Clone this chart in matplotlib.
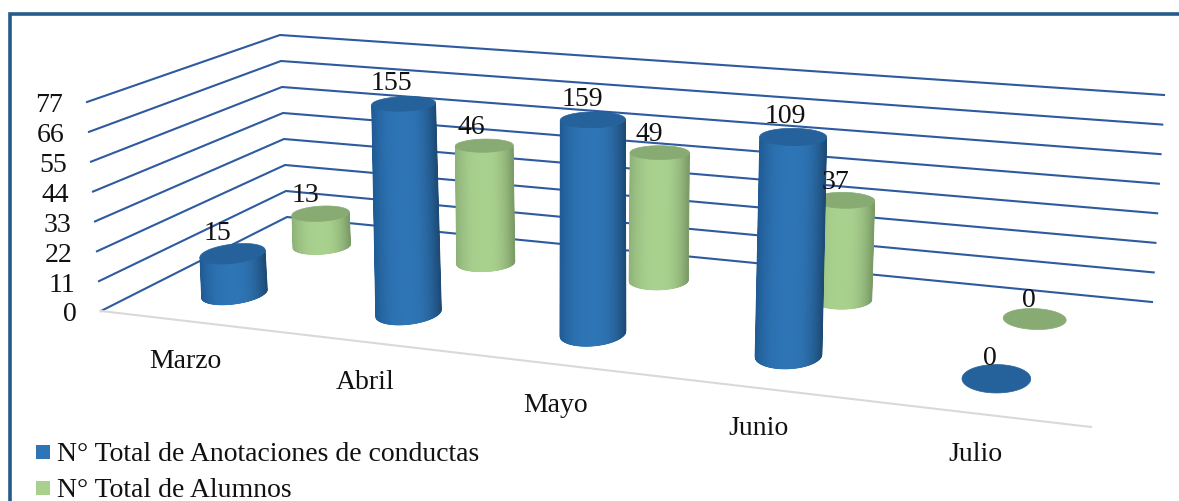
"""3D style cylinder chart: anotaciones de conductas y alumnos por mes."""
import matplotlib
matplotlib.use("Agg")
import matplotlib.pyplot as plt
import numpy as np
from matplotlib.patches import Polygon, Rectangle

months = ["Marzo", "Abril", "Mayo", "Junio", "Julio"]
anotaciones = [15, 155, 159, 109, 0]
alumnos = [13, 46, 49, 37, 0]
y_ticks = [0, 11, 22, 33, 44, 55, 66, 77]
legend_labels = ["N° Total de Anotaciones de conductas", "N° Total de Alumnos"]

AXIS_MAX = y_ticks[-1]

# pixel corners of the floor: front-left, front-right, back-right, back-left
FLOOR = np.array([(101, 312), (1091, 428), (1152, 303), (287, 218)], float)
# how far each corner moves on screen for the full axis height
RISE = np.array([(-14, -209), (12, -232), (12, -207), (-7, -182)], float)

BLUE = dict(mid="#2E75B6", left="#1F5A93", right="#1D4A75", top="#25619A")
GREEN = dict(mid="#A9D18E", left="#8DB077", right="#7A9A66", top="#88AB74")


def homography(quad):
    src = [(0, 0), (1, 0), (1, 1), (0, 1)]
    rows, rhs = [], []
    for (u, v), (x, y) in zip(src, quad):
        rows.append([u, v, 1, 0, 0, 0, -u * x, -v * x])
        rows.append([0, 0, 0, u, v, 1, -u * y, -v * y])
        rhs += [x, y]
    return np.append(np.linalg.solve(np.array(rows, float), np.array(rhs, float)), 1).reshape(3, 3)


H_FLOOR = homography(FLOOR)


def project(u, v, h=0.0):
    u, v = np.asarray(u, float), np.asarray(v, float)
    H = H_FLOOR
    w = H[2, 0] * u + H[2, 1] * v + H[2, 2]
    x = (H[0, 0] * u + H[0, 1] * v + H[0, 2]) / w
    y = (H[1, 0] * u + H[1, 1] * v + H[1, 2]) / w
    t = np.asarray(h, float) / AXIS_MAX
    dx = (1 - v) * ((1 - u) * RISE[0, 0] + u * RISE[1, 0]) + v * ((1 - u) * RISE[3, 0] + u * RISE[2, 0])
    dy = (1 - v) * ((1 - u) * RISE[0, 1] + u * RISE[1, 1]) + v * ((1 - u) * RISE[3, 1] + u * RISE[2, 1])
    return x + dx * t, y + dy * t


def hex_rgb(c):
    return np.array(matplotlib.colors.to_rgb(c))


def side_colour(f, style):
    # f runs -1 (left silhouette) to 1 (right silhouette)
    edge = hex_rgb(style["left"] if f < 0 else style["right"])
    k = abs(f) ** 2.5
    return tuple(hex_rgb(style["mid"]) * (1 - k) + edge * k)


def lower_arc(x, y, xq):
    # y of the near side of a closed ellipse outline at the x positions xq
    m = len(x) - 1
    i, ir = int(np.argmin(x[:-1])), int(np.argmax(x[:-1]))
    xa, ya = [x[i]], [y[i]]
    while i != ir:
        i = (i + 1) % m
        xa.append(x[i])
        ya.append(y[i])
    return np.interp(xq, xa, ya)


def cylinder(ax, uc, vc, value, style, ru, rv):
    h = min(value, AXIS_MAX)
    t = np.linspace(0, 2 * np.pi, 361)
    # the eye sits near the top of the box, so high ellipses look flatter
    flat = 1 - 0.2 * h / AXIS_MAX
    xb, yb = project(uc + ru * np.cos(t), vc + rv * np.sin(t), 0)
    xt, yt = project(uc + ru * np.cos(t), vc + flat * rv * np.sin(t), h)
    if h > 0:
        fs = np.linspace(-1, 1, 141)
        qb = (xb.max() + xb.min()) / 2 + fs * (xb.max() - xb.min()) / 2
        qt = (xt.max() + xt.min()) / 2 + fs * (xt.max() - xt.min()) / 2
        yqb, yqt = lower_arc(xb, yb, qb), lower_arc(xt, yt, qt)
        for i in range(len(fs) - 1):
            quad = [(qb[i], yqb[i]), (qb[i + 1], yqb[i + 1]), (qt[i + 1], yqt[i + 1]), (qt[i], yqt[i])]
            c = side_colour((fs[i] + fs[i + 1]) / 2, style)
            ax.add_patch(Polygon(quad, closed=True, fc=c, ec=c, lw=0.5, zorder=3))
    ax.add_patch(Polygon(np.c_[xt, yt], closed=True, fc=style["top"], ec=style["top"], lw=0.5, zorder=3))
    return project(uc, vc, h)


fig = plt.figure(figsize=(11.79, 5.02), dpi=100)
ax = fig.add_axes([0, 0, 1, 1])
ax.set_xlim(0, 1179)
ax.set_ylim(502, 0)
ax.axis("off")

serif = "Liberation Serif"
ink = "#111111"

# outer frame, only top and left reach the crop
ax.plot([9.5, 9.5, 1179], [502, 14.5, 14.5], color="#255A8A", lw=2.6, solid_joinstyle="miter", zorder=1)

for tick in y_ticks:
    xs, ys = project([0, 0, 1], [0, 1, 1], tick)
    ax.plot(xs, ys, color="#2E5AA0", lw=1.5, zorder=2)
    ax.text(xs[0] - 24, ys[0] + 3, str(tick), ha="right", va="center", fontsize=20, family=serif, color=ink)

xs, ys = project([0, 1], [0, 0], 0)
ax.plot(xs, ys, color="#D9D9D9", lw=1.5, zorder=2)

n = len(months)
V_BLUE, V_GREEN = 0.255, 0.75
for i, month in enumerate(months):
    uc = (i + 0.5) / n - 0.003
    top_g = cylinder(ax, uc, V_GREEN, alumnos[i], GREEN, 0.031, 0.09)
    top_b = cylinder(ax, uc, V_BLUE, anotaciones[i], BLUE, 0.031, 0.105)
    dx = -16 + 11 * uc
    ax.text(top_g[0] + dx, top_g[1] - 19, str(alumnos[i]), ha="center", va="center", fontsize=20, family=serif, color=ink, zorder=5)
    ax.text(top_b[0] + dx, top_b[1] - 21, str(anotaciones[i]), ha="center", va="center", fontsize=20, family=serif, color=ink, zorder=5)
    lx, ly = project(uc, 0, 0)
    ax.text(lx + 1, ly + 40, month, ha="center", va="center", fontsize=20, family=serif, color=ink)

for k, (label, colour) in enumerate(zip(legend_labels, [BLUE["mid"], GREEN["mid"]])):
    y = 452.5 + 36.5 * k
    ax.add_patch(Rectangle((36, y - 7), 14, 14, fc=colour, ec="none"))
    ax.text(57, y + 2, label, ha="left", va="center", fontsize=20, family=serif, color=ink)

fig.savefig("out.png", dpi=100)
